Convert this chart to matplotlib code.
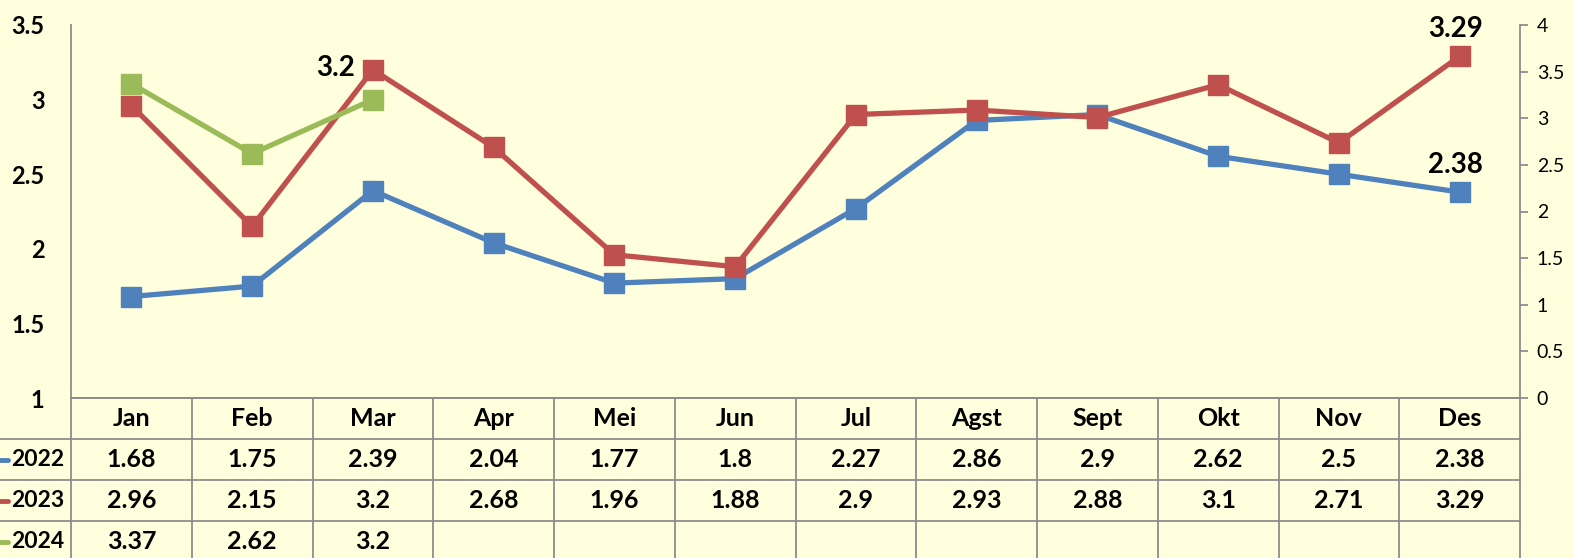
import matplotlib.pyplot as plt

months = ["Jan", "Feb", "Mar", "Apr", "Mei", "Jun", "Jul", "Agst", "Sept", "Okt", "Nov", "Des"]
v2022 = [1.68, 1.75, 2.39, 2.04, 1.77, 1.8, 2.27, 2.86, 2.9, 2.62, 2.5, 2.38]
v2023 = [2.96, 2.15, 3.2, 2.68, 1.96, 1.88, 2.9, 2.93, 2.88, 3.1, 2.71, 3.29]
v2024 = [3.37, 2.62, 3.2]
series = [("2022", v2022, "#4F81BD"), ("2023", v2023, "#C0504D"), ("2024", v2024, "#9BBB59")]

bg = "#FFFFDD"
grid = "#8C8C8C"
plt.rcParams['font.family'] = ['Lato', 'DejaVu Sans']

W, H = 1574, 558
fig = plt.figure(figsize=(W / 100, H / 100), dpi=100, facecolor=bg)
x0, x1, ytop, ybot = 71, 1520, 25, 398
ax = fig.add_axes([x0 / W, 1 - ybot / H, (x1 - x0) / W, (ybot - ytop) / H])
ax.set_facecolor(bg)
ax2 = ax.twinx()
ax2.patch.set_visible(False)

xs = list(range(len(months)))
ax.set_xlim(-0.5, len(months) - 0.5)
ax.set_ylim(1, 3.5)
ax.set_yticks([1, 1.5, 2, 2.5, 3, 3.5])
ax.set_yticklabels(["1", "1.5", "2", "2.5", "3", "3.5"], fontweight='bold', fontsize=17)
ax.tick_params(axis='y', length=0, pad=19)
ax.set_xticks([])
for s in ["top", "right"]:
    ax.spines[s].set_visible(False)
for s in ["left", "bottom"]:
    ax.spines[s].set_color(grid)
    ax.spines[s].set_linewidth(1.3)

ax2.set_ylim(0, 4)
ax2.set_yticks([0, 0.5, 1, 1.5, 2, 2.5, 3, 3.5, 4])
ax2.set_yticklabels(["0", "0.5", "1", "1.5", "2", "2.5", "3", "3.5", "4"], fontsize=14)
ax2.tick_params(axis='y', length=6, width=1.3, color=grid, pad=6)
for s in ["top", "left", "bottom"]:
    ax2.spines[s].set_visible(False)
ax2.spines["right"].set_color(grid)
ax2.spines["right"].set_linewidth(1.3)

lw, ms = 3.8, 15
ax.plot(xs, v2022, color=series[0][2], lw=lw, marker='s', ms=ms, zorder=3)
ax.plot(xs, v2023, color=series[1][2], lw=lw, marker='s', ms=ms, zorder=4)
ax2.plot(xs[:len(v2024)], v2024, color=series[2][2], lw=lw, marker='s', ms=ms, zorder=3)

lab = dict(fontsize=20, fontweight='bold', textcoords='offset points')
ax.annotate("3.2", (2, v2023[2]), xytext=(-13, 1), ha='right', va='center', **lab)
ax.annotate("3.29", (11, v2023[11]), xytext=(-3, 10), ha='center', va='bottom', **lab)
ax.annotate("2.38", (11, v2022[11]), xytext=(-3, 10), ha='center', va='bottom', **lab)

# data table under the plot
rowh = 41
tb = fig.add_axes([x0 / W, 0, (x1 - x0) / W, (H - ybot) / H])
tb.patch.set_visible(False)
tb.set_xlim(-0.5, len(months) - 0.5)
tb.set_ylim((H - ybot) / rowh, 0)
tb.axis('off')
colw = (x1 - x0) / len(months)
xleft = -0.5 - x0 / colw
lk = dict(color=grid, lw=1.3, clip_on=False)
for i in range(len(months) + 1):
    tb.plot([i - 0.5, i - 0.5], [0, 4.2], **lk)
tb.plot([-0.5, len(months) - 0.5], [0, 0], **lk)
for r in range(1, 4):
    tb.plot([xleft, len(months) - 0.5], [r, r], **lk)

tf = dict(fontsize=18, fontweight='bold', ha='center', va='center')
for i, m in enumerate(months):
    tb.text(i, 0.5, m, **tf)
for r, (name, vals, col) in enumerate(series, start=1):
    for i, v in enumerate(vals):
        tb.text(i, r + 0.5, f"{v:g}", **tf)
    tb.plot([xleft, xleft + 8 / colw], [r + 0.5, r + 0.5], color=col, lw=3.5,
            solid_capstyle='round', clip_on=False)
    tb.text(-0.5 - 7 / colw, r + 0.5, name, fontsize=16.5, fontweight='bold',
            ha='right', va='center', clip_on=False)

fig.savefig("out.png", dpi=100, facecolor=bg)
